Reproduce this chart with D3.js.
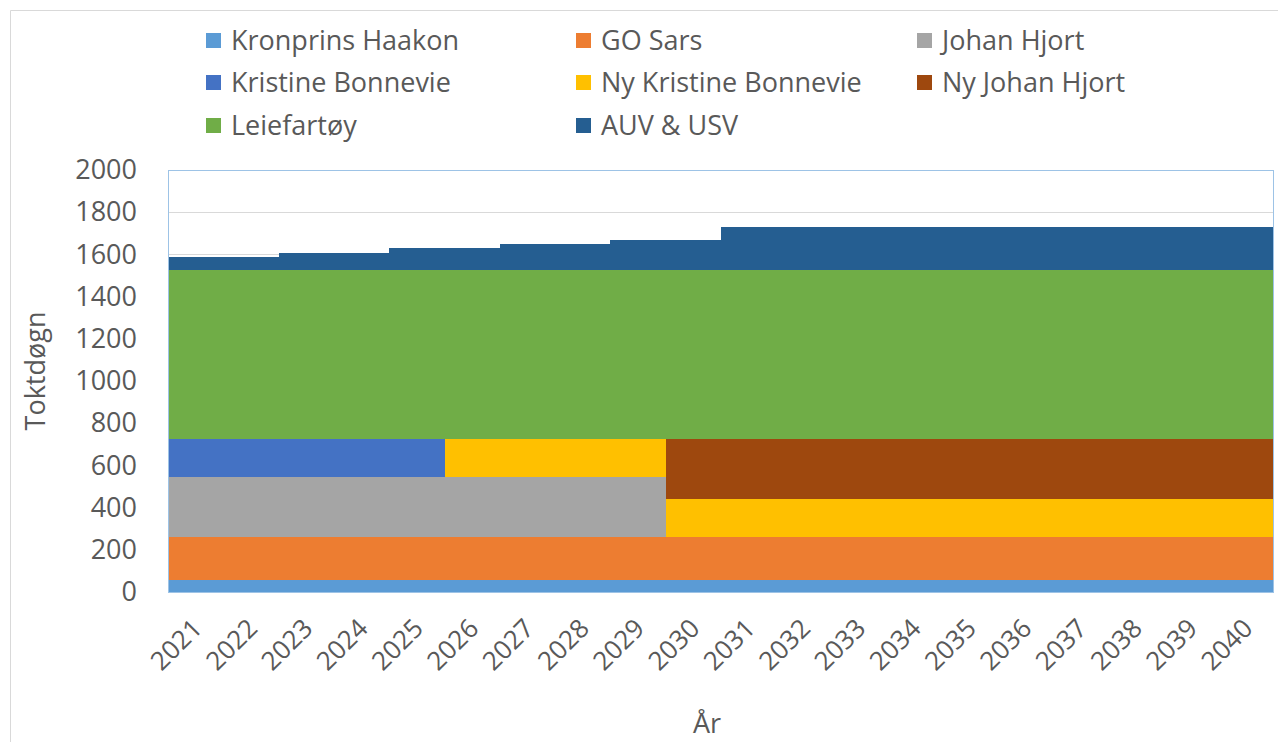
<!DOCTYPE html>
<html>
<head>
<meta charset="utf-8">
<script src="https://cdn.jsdelivr.net/npm/d3@7"></script>
<style>
  body { margin: 0; background: #fff; }
  svg { display: block; font-family: "Open Sans", sans-serif; }
</style>
</head>
<body>
<svg id="Target" width="1278" height="742"></svg>
<script>
// values (toktdøgn per year)
const years = ["2021","2022","2023","2024","2025","2026","2027","2028","2029","2030",
               "2031","2032","2033","2034","2035","2036","2037","2038","2039","2040"];
const kronprinsHaakon   = [58,58,58,58,58,58,58,58,58,58,58,58,58,58,58,58,58,58,58,58];
const goSars            = [205,205,205,205,205,205,205,205,205,205,205,205,205,205,205,205,205,205,205,205];
const johanHjort        = [280,280,280,280,280,280,280,280,280,0,0,0,0,0,0,0,0,0,0,0];
const kristineBonnevie  = [180,180,180,180,180,0,0,0,0,0,0,0,0,0,0,0,0,0,0,0];
const nyKristineBonnevie= [0,0,0,0,0,180,180,180,180,180,180,180,180,180,180,180,180,180,180,180];
const nyJohanHjort      = [0,0,0,0,0,0,0,0,0,280,280,280,280,280,280,280,280,280,280,280];
const leiefartoy        = [805,805,805,805,805,805,805,805,805,805,805,805,805,805,805,805,805,805,805,805];
const auvUsv            = [60,60,80,80,100,100,120,120,140,140,200,200,200,200,200,200,200,200,200,200];
const yTicks = [0,200,400,600,800,1000,1200,1400,1600,1800,2000];

const seriesNames = ["Kronprins Haakon","GO Sars","Johan Hjort","Kristine Bonnevie",
                     "Ny Kristine Bonnevie","Ny Johan Hjort","Leiefartøy","AUV & USV"];
const seriesValues = [kronprinsHaakon, goSars, johanHjort, kristineBonnevie,
                      nyKristineBonnevie, nyJohanHjort, leiefartoy, auvUsv];
const colors = ["#5B9BD5","#ED7D31","#A5A5A5","#4472C4","#FFC000","#9E480E","#70AD47","#255E91"];

const svg = d3.select("#Target");
const plotLeft = 168, plotRight = 1274, plotTop = 170, plotBottom = 592;
const textColor = "#595959";

// outer chart frame
svg.append("path")
    .attr("d", "M10.5,742 V10.5 H1278")
    .attr("fill", "none")
    .attr("stroke", "#D9D9D9");

// rows for stacking, one extra row so the last step gets its full width
const rows = years.map((yr, i) => {
    const r = {i};
    seriesNames.forEach((n, k) => r[n] = seriesValues[k][i]);
    return r;
});
rows.push(Object.assign({}, rows[rows.length - 1], {i: years.length}));

const stacked = d3.stack().keys(seriesNames)(rows);

const x = d3.scaleLinear().domain([0, years.length]).range([plotLeft, plotRight]);
const xBand = d3.scaleBand().domain(years).range([plotLeft, plotRight]);
const y = d3.scaleLinear().domain([0, 2000]).range([plotBottom, plotTop]);

// gridlines
svg.append("g")
    .selectAll("line")
    .data(yTicks)
    .join("line")
    .attr("x1", plotLeft).attr("x2", plotRight)
    .attr("y1", d => Math.round(y(d)) + 0.5)
    .attr("y2", d => Math.round(y(d)) + 0.5)
    .attr("stroke", "#D9D9D9")
    .attr("stroke-width", 1);

const area = d3.area()
    .curve(d3.curveStepAfter)
    .x(d => x(d.data.i))
    .y0(d => y(d[0]))
    .y1(d => y(d[1]));

svg.append("g")
    .selectAll("path")
    .data(stacked)
    .join("path")
    .attr("fill", (d, k) => colors[k])
    .attr("shape-rendering", "crispEdges")
    .attr("d", area);

// plot area border
svg.append("rect")
    .attr("x", plotLeft + 0.5).attr("y", plotTop + 0.5)
    .attr("width", plotRight - plotLeft - 1).attr("height", plotBottom - plotTop)
    .attr("fill", "none")
    .attr("stroke", "#9DC3E6")
    .attr("stroke-width", 1);

// y axis
const yAxis = svg.append("g")
    .attr("transform", `translate(${plotLeft},0)`)
    .call(d3.axisLeft(y).tickValues(yTicks).tickFormat(d3.format("d")).tickSize(0).tickPadding(31));
yAxis.select(".domain").remove();
yAxis.selectAll("text")
    .attr("fill", textColor)
    .attr("font-size", 27)
    .attr("font-family", "Open Sans");

// x axis
const xAxis = svg.append("g")
    .attr("transform", `translate(0,${plotBottom})`)
    .call(d3.axisBottom(xBand).tickSize(0));
xAxis.select(".domain").remove();
xAxis.selectAll("text")
    .attr("fill", textColor)
    .attr("font-size", 26)
    .attr("font-family", "Open Sans")
    .attr("text-anchor", "end")
    .attr("dy", null)
    .attr("y", 0)
    .attr("transform", "translate(8,38) rotate(-45)");

// axis titles
svg.append("text")
    .attr("transform", "translate(45,371) rotate(-90)")
    .attr("text-anchor", "middle")
    .attr("fill", textColor)
    .attr("font-size", 27)
    .text("Toktdøgn");

svg.append("text")
    .attr("x", 707).attr("y", 733)
    .attr("text-anchor", "middle")
    .attr("fill", textColor)
    .attr("font-size", 27)
    .text("År");

// legend
const legendCols = [206, 576, 917];
const legendRows = [41, 83, 126];
const legend = svg.append("g")
    .selectAll("g")
    .data(seriesNames)
    .join("g")
    .attr("transform", (d, k) => `translate(${legendCols[k % 3]},${legendRows[Math.floor(k / 3)]})`);
legend.append("rect")
    .attr("x", 0).attr("y", -8)
    .attr("width", 15).attr("height", 15)
    .attr("fill", d => colors[seriesNames.indexOf(d)]);
legend.append("text")
    .attr("x", 25).attr("y", 0)
    .attr("dy", "0.35em")
    .attr("fill", textColor)
    .attr("font-size", 27)
    .text(d => d);
</script>
</body>
</html>
